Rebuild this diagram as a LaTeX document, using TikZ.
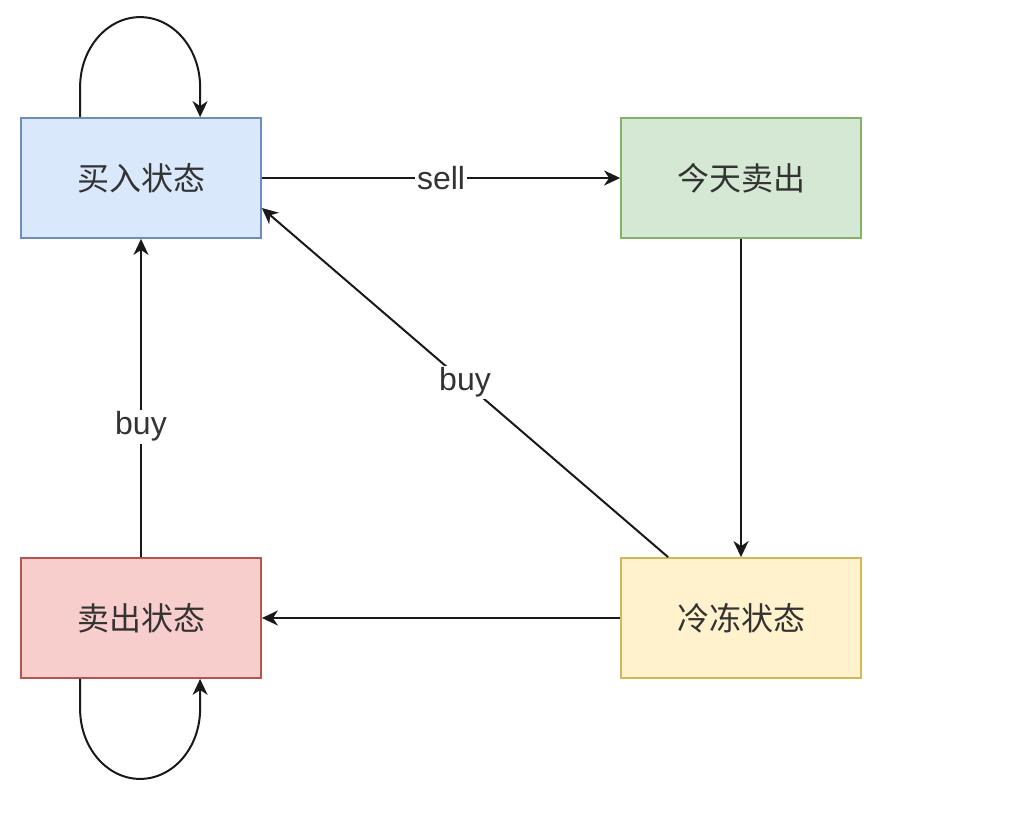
\documentclass[tikz,border=0pt]{standalone}
\usepackage{fontspec}
\setmainfont{Liberation Sans}
\newfontfamily\cjk{Noto Sans CJK SC}
\usetikzlibrary{arrows.meta,calc}
\definecolor{ink}{HTML}{333333}
\definecolor{bluefill}{HTML}{DAE8FC}
\definecolor{bluedraw}{HTML}{6C8EBF}
\definecolor{greenfill}{HTML}{D5E8D4}
\definecolor{greendraw}{HTML}{82B366}
\definecolor{redfill}{HTML}{F8CECC}
\definecolor{reddraw}{HTML}{B85450}
\definecolor{yellowfill}{HTML}{FFF2CC}
\definecolor{yellowdraw}{HTML}{D6B656}
\tikzset{state/.style={draw,line width=0.9pt,minimum width=120pt,minimum height=60pt,inner sep=0pt,font=\cjk\fontsize{16}{19}\selectfont,text=ink},
  buystate/.style={state,fill=bluefill,draw=bluedraw},
  todaystate/.style={state,fill=greenfill,draw=greendraw},
  sellstate/.style={state,fill=redfill,draw=reddraw},
  coolstate/.style={state,fill=yellowfill,draw=yellowdraw},
  flow/.style={-{Stealth[length=8pt,width=7.5pt,inset=2.5pt]},line width=1pt,draw=black!90},
  lbl/.style={fill=white,font=\fontsize{16}{19}\selectfont,text=ink,inner sep=1pt}}

\begin{document}
\begin{tikzpicture}[x=0.5pt,y=-0.5pt]
\useasboundingbox (0,0) rectangle (1026,816);
\node[buystate] (hold) at (141,178) {买入状态};
\node[todaystate] (sold) at (741,178) {今天卖出};
\node[sellstate] (free) at (141,618) {卖出状态};
\node[coolstate] (cool) at (741,618) {冷冻状态};
% transitions
\draw[flow] (hold.east) -- node[lbl] {sell} (sold.west);
\draw[flow] (sold.south) -- (cool.north);
\draw[flow] (cool.west) -- (free.east);
\draw[flow] (free.north) -- node[lbl,pos=0.41] {buy} (hold.south);
\draw[flow] ($(cool.north west)+(48,0)$) -- node[lbl] {buy} ($(hold.east)+(0,30)$);
% self loops
\draw[flow] ($(hold.north west)+(60,0)$) -- ++(0,-30) arc (180:360:60 and 70) -- ($(hold.north west)+(180,0)$);
\draw[flow] ($(free.south west)+(60,0)$) -- ++(0,30) arc (180:0:60 and 70) -- ($(free.south west)+(180,0)$);
\end{tikzpicture}
\end{document}
